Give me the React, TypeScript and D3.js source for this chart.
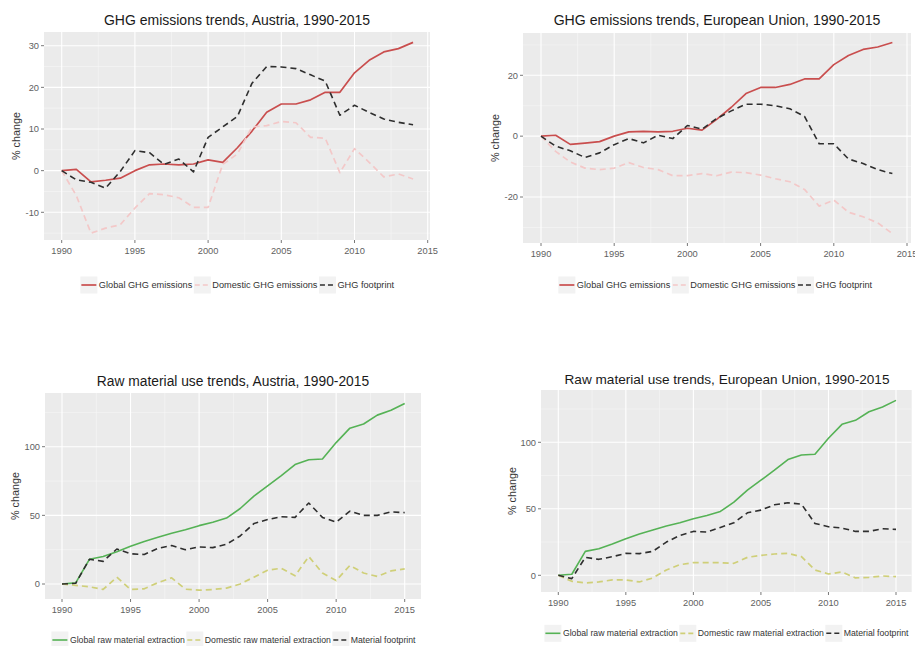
import React from "react";
import * as d3 from "d3";

// ---------- data ----------
const ghgYears = [1990, 1991, 1992, 1993, 1994, 1995, 1996, 1997, 1998, 1999, 2000, 2001, 2002, 2003, 2004, 2005, 2006, 2007, 2008, 2009, 2010, 2011, 2012, 2013, 2014];
const matYears = [1990, 1991, 1992, 1993, 1994, 1995, 1996, 1997, 1998, 1999, 2000, 2001, 2002, 2003, 2004, 2005, 2006, 2007, 2008, 2009, 2010, 2011, 2012, 2013, 2014, 2015];
const xTicks = [1990, 1995, 2000, 2005, 2010, 2015];

const globalGhg = [0, 0.3, -2.7, -2.3, -1.8, 0, 1.4, 1.6, 1.4, 1.6, 2.6, 2.0, 5.5, 9.5, 14, 16, 16, 17, 18.8, 18.8, 23.5, 26.5, 28.5, 29.3, 30.8];
const austriaDomesticGhg = [0, -6, -15, -13.8, -13, -9, -5.5, -5.8, -6.5, -8.8, -8.8, 1.5, 4, 10.5, 10.8, 11.8, 11.5, 8, 7.8, -0.5, 5.3, 2, -1.5, -0.8, -2];
const austriaGhgFootprint = [0, -2.2, -2.8, -4.2, -0.2, 4.8, 4.3, 1.5, 2.8, -0.3, 8, 10.5, 13, 21, 25, 24.9, 24.5, 23, 21.5, 13.3, 15.7, 14, 12.4, 11.6, 11];
const euDomesticGhg = [0, -5, -8.5, -10.5, -11, -10.5, -8.7, -10.3, -11, -13, -13, -12.3, -13, -11.8, -12, -12.8, -14, -15, -17.5, -23, -21, -25, -26.5, -28.5, -32];
const euGhgFootprint = [0, -3.3, -4.8, -7, -5.5, -2.8, -0.8, -2.2, 0.3, -0.8, 3.5, 2.3, 5.8, 8.3, 10.5, 10.5, 10, 9, 6.5, -2.5, -2.5, -7.5, -9, -11, -12.3];

const globalMaterial = [0, 0.8, 18, 20, 23.5, 27.5, 31, 34, 37, 39.5, 42.5, 45, 48, 55, 64, 71.5, 79, 87, 90.5, 91, 103, 113.5, 116.5, 123, 126.5, 131.5];
const austriaDomesticMaterial = [0, -1, -2, -4, 5, -4, -3.5, 1, 4.5, -3.8, -4.5, -4, -3, 0, 5, 10, 11.5, 6, 20, 8, 2.5, 13.5, 8, 5.5, 9.5, 11];
const austriaMaterialFootprint = [0, 0.5, 18, 16.5, 25.5, 22, 21.5, 26, 28, 25, 27, 26.5, 29, 35, 44, 47, 49, 48.5, 59, 48.5, 45, 53, 50, 50, 52.5, 52];
const euDomesticMaterial = [0, -4.5, -5.8, -5, -3.5, -3.5, -5, -2, 4, 8, 9.5, 9.5, 9.5, 9, 13.5, 15, 16, 16.5, 14, 4, 1, 2.5, -2, -1.5, -0.5, -1];
const euMaterialFootprint = [0, -2.5, 13.5, 12, 14, 16.5, 16.3, 18, 25, 30, 33, 32.5, 36, 39.5, 47, 49, 53, 54.5, 53.5, 39, 36.5, 35.5, 33, 33, 35, 34.5];

const ghgAustriaYTicks = [-10, 0, 10, 20, 30];
const ghgEuYTicks = [-20, 0, 20];
const matYTicks = [0, 50, 100];

const ghgLabels = ["Global GHG emissions", "Domestic GHG emissions", "GHG footprint"];
const matLabels = ["Global raw material extraction", "Domestic raw material extraction", "Material footprint"];

// ---------- styles ----------
const FONT = "'Liberation Sans', Arial, Helvetica, sans-serif";
const ghgStyles = [
  { color: "#C94E4E", dash: "", width: 1.7 },
  { color: "#F3C8C8", dash: "6,4", width: 1.7 },
  { color: "#2E2E2E", dash: "6,4", width: 1.6 },
];
const matStyles = [
  { color: "#55B255", dash: "", width: 1.6 },
  { color: "#CFCF78", dash: "6,4", width: 1.7 },
  { color: "#2E2E2E", dash: "6,4", width: 1.6 },
];

let measureCtx: CanvasRenderingContext2D | null = null;
function textWidth(text: string, size: number): number {
  if (!measureCtx) {
    const c = document.createElement("canvas");
    measureCtx = c.getContext("2d");
  }
  if (!measureCtx) return text.length * size * 0.5;
  measureCtx.font = `${size}px 'Liberation Sans', Arial, sans-serif`;
  return measureCtx.measureText(text).width;
}

type Box = { left: number; top: number; right: number; bottom: number };

function Panel(props: {
  title: string;
  titleX: number;
  titleY: number;
  titleSize: number;
  box: Box;
  xPx: [number, number]; // pixel of 1990 and 2015
  yRef: [number, number, number, number]; // value a, px a, value b, px b
  years: number[];
  series: number[][];
  styles: { color: string; dash: string; width: number }[];
  yTicks: number[];
  yLabelX: number;
  labels: string[];
  legendCenter: number;
  legendY: number;
  legendSize: number;
}) {
  const { box, years, series, styles, yTicks } = props;
  const x = d3.scaleLinear().domain([1990, 2015]).range(props.xPx);
  const y = d3.scaleLinear().domain([props.yRef[0], props.yRef[2]]).range([props.yRef[1], props.yRef[3]]);
  const d0 = y.invert(box.bottom);
  const d1 = y.invert(box.top);

  const majorStep = yTicks[1] - yTicks[0];
  const minorY: number[] = [];
  for (let v = yTicks[0] - majorStep * 2 + majorStep / 2; v <= d1; v += majorStep) {
    if (v >= d0 && v <= d1) minorY.push(v);
  }
  const minorX = xTicks.slice(0, -1).map((t) => t + 2.5);

  const line = d3
    .line<number>()
    .x((_, i) => x(years[i]))
    .y((d) => y(d));

  const clipId = "clip" + Math.round(box.left) + "_" + Math.round(box.top);

  // legend layout
  const keyW = 17;
  const widths = props.labels.map((l) => textWidth(l, props.legendSize));
  const itemW = widths.map((w) => keyW + 1.5 + w + 1.5);
  const total = d3.sum(itemW);
  let cursor = props.legendCenter - total / 2;
  const keyXs = itemW.map((w) => {
    const k = cursor;
    cursor += w;
    return k;
  });

  return (
    <g>
      <defs>
        <clipPath id={clipId}>
          <rect x={box.left} y={box.top} width={box.right - box.left} height={box.bottom - box.top} />
        </clipPath>
      </defs>
      <text x={props.titleX} y={props.titleY} textAnchor="middle" fontSize={props.titleSize} fill="#1a1a1a" fontFamily={FONT}>
        {props.title}
      </text>
      <rect x={box.left} y={box.top} width={box.right - box.left} height={box.bottom - box.top} fill="#EBEBEB" />
      <g clipPath={`url(#${clipId})`}>
        {minorY.map((v) => (
          <line key={"my" + v} x1={box.left} x2={box.right} y1={y(v)} y2={y(v)} stroke="#F7F7F7" strokeWidth={0.6} />
        ))}
        {minorX.map((v) => (
          <line key={"mx" + v} x1={x(v)} x2={x(v)} y1={box.top} y2={box.bottom} stroke="#F7F7F7" strokeWidth={0.6} />
        ))}
        {yTicks.map((v) => (
          <line key={"gy" + v} x1={box.left} x2={box.right} y1={y(v)} y2={y(v)} stroke="#FFFFFF" strokeWidth={1.1} />
        ))}
        {xTicks.map((v) => (
          <line key={"gx" + v} x1={x(v)} x2={x(v)} y1={box.top} y2={box.bottom} stroke="#FFFFFF" strokeWidth={1.1} />
        ))}
        {series.map((s, i) => (
          <path
            key={"s" + i}
            d={line(s) || ""}
            fill="none"
            stroke={styles[i].color}
            strokeWidth={styles[i].width}
            strokeDasharray={styles[i].dash || undefined}
            strokeLinejoin="round"
          />
        ))}
      </g>
      {yTicks.map((v) => (
        <g key={"yt" + v}>
          <line x1={box.left - 3} x2={box.left} y1={y(v)} y2={y(v)} stroke="#555" strokeWidth={0.8} />
          <text x={box.left - 5} y={y(v)} dy="0.35em" textAnchor="end" fontSize={9.3} fill="#5f5f5f" fontFamily={FONT}>
            {v}
          </text>
        </g>
      ))}
      {xTicks.map((v) => (
        <g key={"xt" + v}>
          <line x1={x(v)} x2={x(v)} y1={box.bottom} y2={box.bottom + 3} stroke="#555" strokeWidth={0.8} />
          <text x={x(v)} y={box.bottom + 13.5} textAnchor="middle" fontSize={9.3} fill="#5f5f5f" fontFamily={FONT}>
            {v}
          </text>
        </g>
      ))}
      <text
        transform={`translate(${props.yLabelX},${(box.top + box.bottom) / 2}) rotate(-90)`}
        textAnchor="middle"
        dy="0.35em"
        fontSize={10.8}
        fill="#333"
        fontFamily={FONT}
      >
        % change
      </text>
      {props.labels.map((lab, i) => {
        const kx = keyXs[i];
        const ky = props.legendY;
        return (
          <g key={"lg" + i}>
            <rect x={kx} y={ky - 8.5} width={keyW} height={17} fill="#F2F2F2" />
            <line
              x1={kx + 1}
              x2={kx + keyW - 1}
              y1={ky}
              y2={ky}
              stroke={styles[i].color}
              strokeWidth={styles[i].width}
              strokeDasharray={styles[i].dash ? "5,3" : undefined}
            />
            <text x={kx + keyW + 1.5} y={ky} dy="0.35em" fontSize={props.legendSize} fill="#333" fontFamily={FONT}>
              {lab}
            </text>
          </g>
        );
      })}
    </g>
  );
}

export default function App() {
  return (
    <svg width={915} height={646} style={{ position: "absolute", left: 0, top: 0, display: "block", background: "#fff" }}>
      <rect x={0} y={0} width={915} height={646} fill="#fff" />
      <Panel
        title="GHG emissions trends, Austria, 1990-2015"
        titleX={237}
        titleY={25}
        titleSize={14}
        box={{ left: 44, top: 32, right: 430, bottom: 240 }}
        xPx={[61.7, 427.7]}
        yRef={[30, 45.7, -10, 212.3]}
        years={ghgYears}
        series={[globalGhg, austriaDomesticGhg, austriaGhgFootprint]}
        styles={ghgStyles}
        yTicks={ghgAustriaYTicks}
        yLabelX={16}
        labels={ghgLabels}
        legendCenter={238}
        legendY={285}
        legendSize={9.2}
      />
      <Panel
        title="GHG emissions trends, European Union, 1990-2015"
        titleX={717}
        titleY={25}
        titleSize={14.1}
        box={{ left: 523, top: 33, right: 911, bottom: 243 }}
        xPx={[541, 907]}
        yRef={[20, 75.3, -20, 197]}
        years={ghgYears}
        series={[globalGhg, euDomesticGhg, euGhgFootprint]}
        styles={ghgStyles}
        yTicks={ghgEuYTicks}
        yLabelX={495}
        labels={ghgLabels}
        legendCenter={716}
        legendY={285}
        legendSize={9.2}
      />
      <Panel
        title="Raw material use trends, Austria, 1990-2015"
        titleX={233}
        titleY={386}
        titleSize={13.8}
        box={{ left: 45, top: 393, right: 421, bottom: 599 }}
        xPx={[62, 404.7]}
        yRef={[100, 446.7, 0, 584]}
        years={matYears}
        series={[globalMaterial, austriaDomesticMaterial, austriaMaterialFootprint]}
        styles={matStyles}
        yTicks={matYTicks}
        yLabelX={15}
        labels={matLabels}
        legendCenter={234.2}
        legendY={640}
        legendSize={8.7}
      />
      <Panel
        title="Raw material use trends, European Union, 1990-2015"
        titleX={727}
        titleY={384}
        titleSize={13.6}
        box={{ left: 541, top: 390, right: 911.7, bottom: 592 }}
        xPx={[558.3, 896]}
        yRef={[100, 442.3, 0, 575.3]}
        years={matYears}
        series={[globalMaterial, euDomesticMaterial, euMaterialFootprint]}
        styles={matStyles}
        yTicks={matYTicks}
        yLabelX={512}
        labels={matLabels}
        legendCenter={727.2}
        legendY={633.3}
        legendSize={8.7}
      />
    </svg>
  );
}
